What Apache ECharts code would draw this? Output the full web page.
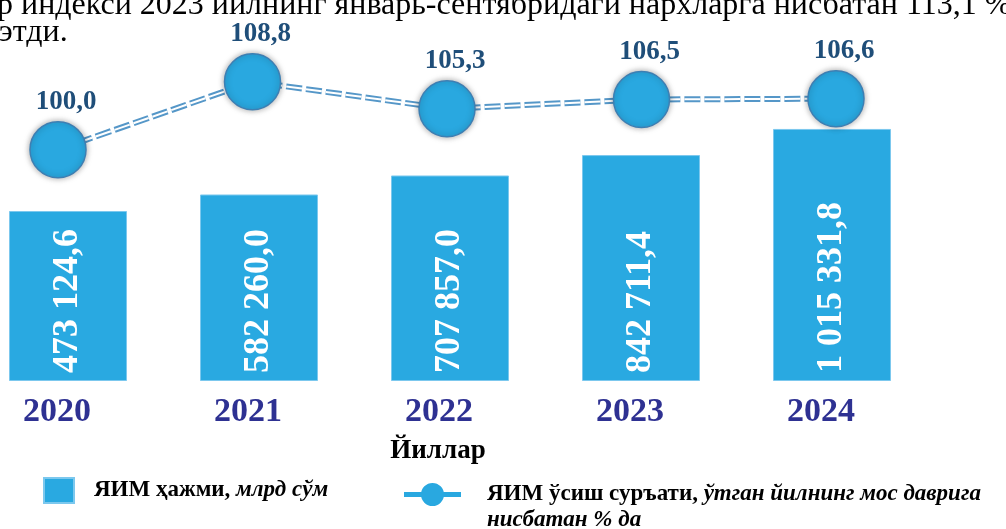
<!DOCTYPE html>
<html>
<head>
<meta charset="utf-8">
<script src="https://cdn.jsdelivr.net/npm/echarts@6/dist/echarts.min.js"></script>
<style>
html,body{margin:0;padding:0;background:#fff;}
#main{width:1006px;height:529px;}
</style>
</head>
<body>
<div id="main"></div>
<script>
var years = ['2020', '2021', '2022', '2023', '2024'];
// ЯИМ ҳажми, млрд сўм
var gdpVolume = [473124.6, 582260.0, 707857.0, 842711.4, 1015331.8];
// ЯИМ ўсиш суръати, %
var gdpGrowth = [100.0, 108.8, 105.3, 106.5, 106.6];

var barName = 'ЯИМ ҳажми, млрд сўм';
var lineName = 'ЯИМ ўсиш суръати';

var serif = '"Liberation Serif", "Times New Roman", serif';

function fmtNum(v) {
    var s = v.toFixed(1).split('.');
    return s[0].replace(/\B(?=(\d{3})+(?!\d))/g, ' ') + ',' + s[1];
}

var chart = echarts.init(document.getElementById('main'));

var option = {
    animation: false,
    graphic: [
        {
            type: 'text', left: -3, top: -10,
            style: {text: 'р индекси 2023 йилнинг январь-сентябридаги нархларга нисбатан 113,1 %', font: '32px ' + serif, fill: '#000'}
        },
        {
            type: 'text', left: -1, top: 17,
            style: {text: 'этди.', font: '32px ' + serif, fill: '#000'}
        },
        {
            type: 'text', x: 438, y: 451,
            style: {text: 'Йиллар', font: 'bold 27px ' + serif, fill: '#000', align: 'center', verticalAlign: 'middle'}
        }
    ],
    legend: [
        {
            left: 43, top: 477, padding: 0,
            itemWidth: 30, itemHeight: 25,
            data: [{name: barName, icon: 'rect'}],
            formatter: function () {
                return '{b|ЯИМ ҳажми, }{i|млрд сўм}';
            },
            textStyle: {
                padding: [0, 0, 0, 15],
                rich: {
                    b: {fontFamily: serif, fontWeight: 'bold', fontSize: 23, lineHeight: 26, color: '#000'},
                    i: {fontFamily: serif, fontWeight: 'bold', fontStyle: 'italic', fontSize: 23, lineHeight: 26, color: '#000'}
                }
            }
        },
        {
            left: 404, top: 483, padding: 0,
            itemWidth: 57, itemHeight: 23,
            data: [{
                name: lineName,
                icon: 'path://M0,9L57,9L57,14L0,14Z M17,11.5A11.5,11.5 0 1 1 40,11.5A11.5,11.5 0 1 1 17,11.5Z',
                itemStyle: {color: '#29a8e0'}
            }],
            formatter: function () {
                return '{b|ЯИМ ўсиш суръати, }{i|ўтган йилнинг мос даврига}\n{i|нисбатан % да}';
            },
            textStyle: {
                padding: [26, 0, 0, 21],
                rich: {
                    b: {fontFamily: serif, fontWeight: 'bold', fontSize: 23, lineHeight: 26, color: '#000'},
                    i: {fontFamily: serif, fontWeight: 'bold', fontStyle: 'italic', fontSize: 23, lineHeight: 26, color: '#000'}
                }
            }
        }
    ],
    grid: [
        {left: 68, right: 174, top: 101, bottom: 148},
        {left: 58, right: 170, top: 57, bottom: 333}
    ],
    xAxis: [
        {
            type: 'category', gridIndex: 0, data: years, boundaryGap: false,
            axisLine: {show: false}, axisTick: {show: false},
            axisLabel: {
                margin: 14, padding: [0, 22, 0, 0],
                fontFamily: serif, fontWeight: 'bold', fontSize: 34, color: '#2E3192'
            }
        },
        {type: 'category', gridIndex: 1, data: years, boundaryGap: false, show: false}
    ],
    yAxis: [
        // столбцы начинаются не с нуля, а с низа оси
        {type: 'value', gridIndex: 0, min: -650000, max: 1200000, startValue: -650000, show: false},
        {type: 'value', gridIndex: 1, min: 94, max: 112, show: false}
    ],
    series: [
        {
            name: barName,
            type: 'bar',
            xAxisIndex: 0, yAxisIndex: 0,
            barWidth: 118,
            data: gdpVolume,
            itemStyle: {color: '#29a9e1', borderColor: '#7cc8ee', borderWidth: 1},
            label: {
                show: true,
                position: 'insideBottom',
                distance: 8,
                rotate: 90,
                align: 'left',
                verticalAlign: 'middle',
                overflow: 'none',
                color: '#fff',
                fontFamily: serif,
                fontWeight: 'bold',
                fontSize: 36,
                formatter: function (p) { return fmtNum(p.value); }
            }
        },
        // двойная пунктирная линия: синяя основа + белая середина
        {
            name: lineName,
            type: 'line',
            xAxisIndex: 1, yAxisIndex: 1,
            data: gdpGrowth,
            symbol: 'none',
            itemStyle: {color: '#29a8e0'},
            lineStyle: {color: '#5597c8', width: 6, type: [16, 4]},
            z: 3
        },
        {
            name: 'line-core',
            type: 'line',
            xAxisIndex: 1, yAxisIndex: 1,
            data: gdpGrowth,
            symbol: 'none',
            lineStyle: {color: '#fff', width: 2, type: [16, 4]},
            z: 4
        },
        {
            name: 'markers',
            type: 'scatter',
            xAxisIndex: 1, yAxisIndex: 1,
            data: gdpGrowth,
            symbolSize: 56,
            itemStyle: {
                color: '#29a8e0',
                opacity: 1,
                borderColor: '#3d7fb3',
                borderWidth: 1.5,
                shadowBlur: 6,
                shadowColor: 'rgba(0,0,0,0.35)'
            },
            label: {
                show: true,
                position: 'top',
                distance: 5,
                offset: [8, 0],
                fontFamily: serif,
                fontWeight: 'bold',
                fontSize: 27,
                color: '#1F4E79',
                formatter: function (p) { return p.value.toFixed(1).replace('.', ','); }
            },
            z: 5
        }
    ]
};
chart.setOption(option);
</script>
</body>
</html>
